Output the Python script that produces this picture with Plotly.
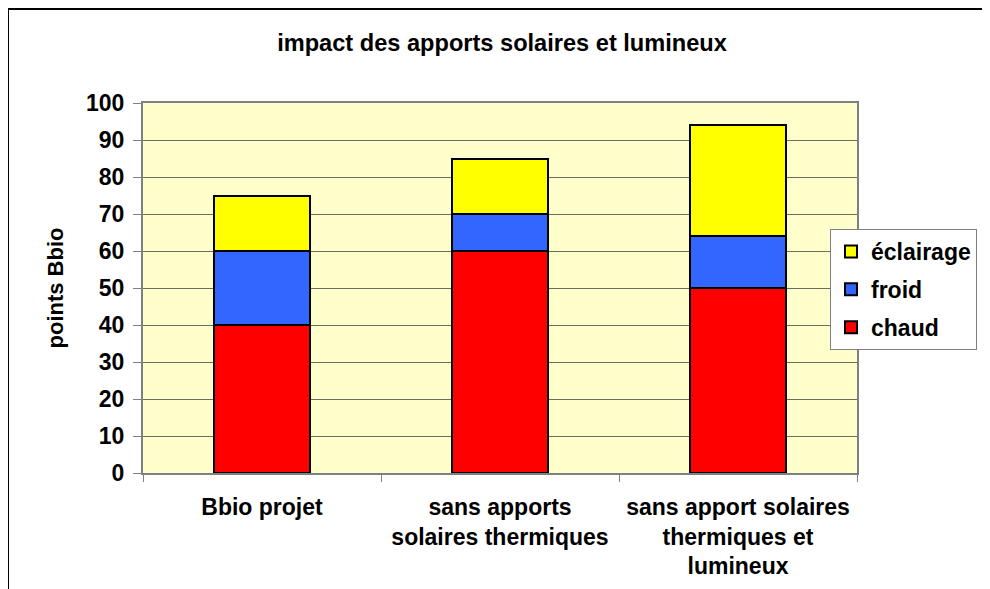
import plotly.graph_objects as go

categories = ["Bbio projet", "sans apports<br>solaires thermiques",
              "sans apport solaires<br>thermiques et<br>lumineux"]
chaud = [40, 60, 50]
froid = [20, 10, 14]
eclairage = [15, 15, 30]
y_ticks = list(range(0, 101, 10))

FONT = "Liberation Sans, Arial, sans-serif"
OFF = 8  # page body margin

fig = go.Figure()
series = [("chaud", chaud, "#FF0000", 3), ("froid", froid, "#3366FF", 2), ("éclairage", eclairage, "#FFFF00", 1)]
for name, vals, col, rank in series:
    fig.add_trace(go.Bar(x=categories, y=vals, name="<b>%s</b>" % name, legendgroup=name, legendrank=rank,
                         marker=dict(color=col, line=dict(color="black", width=2))))

fig.update_layout(
    width=990, height=589,
    barmode="stack", bargap=0.6,
    paper_bgcolor="white", plot_bgcolor="#FFFFCC",
    margin=dict(l=143 - OFF, r=133 + OFF, t=103 - OFF, b=116 + OFF),
    font=dict(family=FONT, size=23, color="black"),
    title=dict(text="<b>impact des apports solaires et lumineux</b>", x=(502 - OFF) / 990, xanchor="center",
               y=1 - (43 - OFF) / 589, yanchor="middle", font=dict(size=23.6, family=FONT)),
    legend=dict(x=(830 - 143) / 714, y=(473 - 229) / 370, xanchor="left", yanchor="top",
                traceorder="grouped",
                bgcolor="white", bordercolor="#808080", borderwidth=1, tracegroupgap=5,
                itemwidth=30, font=dict(size=23, family=FONT), itemclick=False),
    showlegend=True,
)
fig.update_xaxes(tickvals=categories, ticktext=["<b>" + c.replace("<br>", "</b><br><b>") + "</b>" for c in categories],
                 ticks="outside", ticklen=7, tickcolor="#808080", tickson="boundaries",
                 ticklabelstandoff=12,
                 showline=True, linecolor="#808080", linewidth=2, mirror=True,
                 showgrid=False, tickfont=dict(size=23, family=FONT))
fig.update_yaxes(range=[0, 100], tickvals=y_ticks, ticktext=["<b>%d</b>" % v for v in y_ticks],
                 ticks="outside", ticklen=8, tickcolor="#808080", ticklabelstandoff=4,
                 showline=True, linecolor="#808080", linewidth=2, mirror=True,
                 showgrid=True, gridcolor="#6e6e5e", gridwidth=1, zeroline=False,
                 tickfont=dict(size=23, family=FONT),
                 title=dict(text="<b>points Bbio</b>", font=dict(size=22, family=FONT), standoff=16))

# outer chart frame (extends past the window right and bottom)
fx = (8 - 143) / 714
fy = 1 + (103 - 9) / 370
fig.add_shape(type="line", xref="paper", yref="paper", x0=fx, x1=2.0, y0=fy, y1=fy,
              line=dict(color="black", width=2))
fig.add_shape(type="line", xref="paper", yref="paper", x0=fx, x1=fx, y0=fy, y1=-1.0,
              line=dict(color="black", width=2))

fig.write_html("out.html")
